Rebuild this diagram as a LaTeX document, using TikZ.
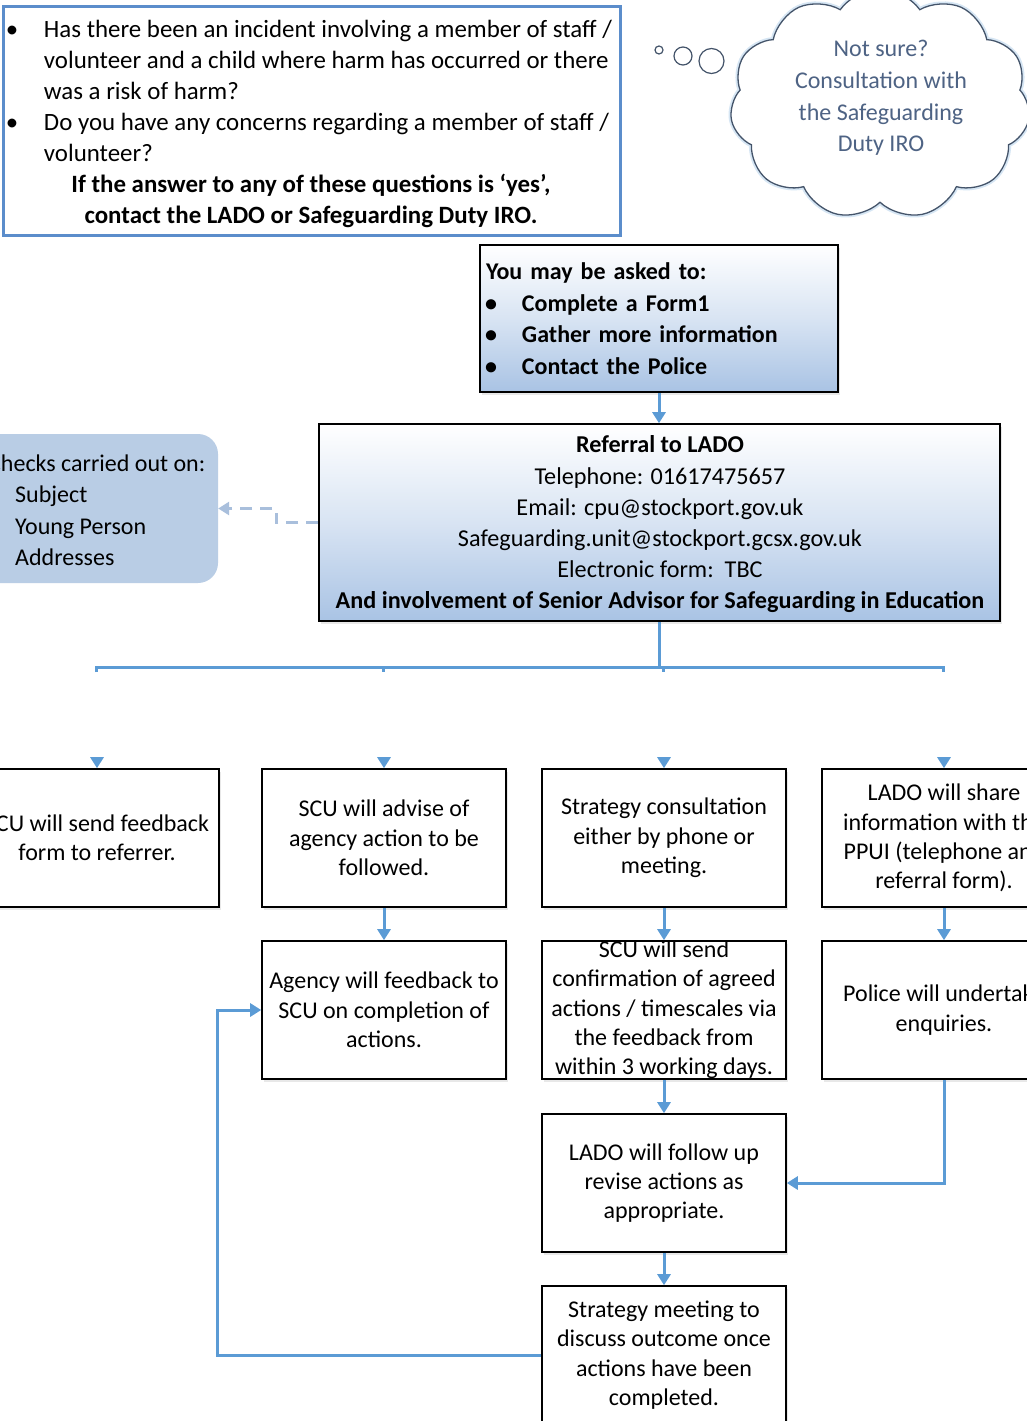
\documentclass[tikz,border=0pt]{standalone}
\usepackage{fontspec}
\setmainfont{Carlito}
\usetikzlibrary{arrows.meta,shapes.symbols,shadows,calc}
\definecolor{ablue}{HTML}{5B9BD5}
\definecolor{qblue}{HTML}{5B8DCB}
\definecolor{lblue}{HTML}{B9CDE5}
\definecolor{gblue}{HTML}{A9C3E4}
\definecolor{dashc}{HTML}{A9BFDC}
\definecolor{cloudc}{HTML}{44546A}
\definecolor{cloudt}{HTML}{4E6384}
\begin{document}
\begin{tikzpicture}[x=1pt,y=-1pt,
  every node/.style={font=\fontsize{24}{29.3}\selectfont},
  arr/.style={draw=ablue, line width=3pt, -{Triangle[width=13pt,length=11pt]}},
  conn/.style={draw=ablue, line width=3pt},
  stepbox/.style={draw=black, line width=1.6pt, fill=white, minimum width=244pt, minimum height=138pt, align=center, inner sep=2pt, drop shadow={opacity=0.18, shadow xshift=2pt, shadow yshift=-3pt}},
  gradbox/.style={draw=black, line width=1.6pt, top color=white, bottom color=gblue, middle color=white!55!gblue, drop shadow={opacity=0.18, shadow xshift=2pt, shadow yshift=-3pt}},
  cloudshape/.style={cloud, cloud puffs=11, cloud puff arc=110, aspect=1.3, minimum width=300pt, minimum height=230pt}
]
\useasboundingbox (0,0) rectangle (1027,1421);
\clip (0,0) rectangle (1027,1421);
\fill[white] (0,0) rectangle (1027,1421);

% question box
\node[draw=qblue, line width=3pt, fill=white, minimum width=617pt, minimum height=228pt] (q) at (311.5,121) {};
\node[align=left, inner sep=0pt, font=\fontsize{24.9}{31.1}\selectfont] (qtxt) at (311.5,124)
{\makebox[33pt][l]{\hspace*{-5pt}\textbullet}Has there been an incident involving a member of staff /\\
\hspace*{33pt}volunteer and a child where harm has occurred or there\\
\hspace*{33pt}was a risk of harm?\\
\makebox[33pt][l]{\hspace*{-5pt}\textbullet}Do you have any concerns regarding a member of staff /\\
\hspace*{33pt}volunteer?\\
\makebox[600pt][c]{\bfseries If the answer to any of these questions is ‘yes’,}\\
\makebox[600pt][c]{\bfseries contact the LADO or Safeguarding Duty IRO.}};

% cloud
\node[cloudshape, draw=ablue!25, line width=5pt] (cloudglow) at (880,104) {};
\node[cloudshape, draw=cloudc, line width=1.3pt, fill=white] (cloud) at (880,104) {};
\node[align=center, text=cloudt, font=\fontsize{24}{31.7}\selectfont] (cloudtxt) at (881,98) {Not sure?\\Consultation with\\the Safeguarding\\Duty IRO};
\draw[cloudc, line width=1.2pt, fill=white] (659,50) circle (4pt);
\draw[cloudc, line width=1.2pt, fill=white] (683,56) circle (9pt);
\draw[cloudc, line width=1.2pt, fill=white] (711.5,61) circle (12.5pt);

% ask box
\node[gradbox, minimum width=358pt, minimum height=147pt, text width=346pt, align=left, inner xsep=6pt, font=\fontsize{24}{31.5}\selectfont\bfseries] (ask) at (659,318.5)
{You may be asked to:\\
\hspace*{4pt}\makebox[32pt][l]{\hspace*{-5pt}\textbullet}Complete a Form1\\
\hspace*{4pt}\makebox[32pt][l]{\hspace*{-5pt}\textbullet}Gather more information\\
\hspace*{4pt}\makebox[32pt][l]{\hspace*{-5pt}\textbullet}Contact the Police};

% LADO box
\node[gradbox, minimum width=681pt, minimum height=197pt] (lado) at (659.5,522.5) {};
\node[align=center, inner sep=0pt, font=\fontsize{24.2}{31.2}\selectfont] (ladotxt) at (660,524.5)
{\textbf{Referral to LADO}\\Telephone: 01617475657\\Email: cpu@stockport.gov.uk\\Safeguarding.unit@stockport.gcsx.gov.uk\\Electronic form:\ \ TBC\\\textbf{And involvement of Senior Advisor for Safeguarding in Education}};

\draw[arr] (ask.south) -- (ask.south |- lado.north);

% checks box
\node[fill=lblue, rounded corners=20pt, minimum width=300pt, minimum height=149pt] (checks) at (68,508.5) {};
\node[anchor=west, align=left, inner sep=0pt, font=\fontsize{24}{31.5}\selectfont] (checkstxt) at (-12,510)
{Checks carried out on:\\\hspace*{27pt}Subject\\\hspace*{27pt}Young Person\\\hspace*{27pt}Addresses};
\draw[dashc, line width=3pt, dash pattern=on 12pt off 8pt, -{Triangle[width=13pt,length=11pt]}] (lado.west) -- ++(-42,0) |- (checks.east);

% bus
\coordinate (bus) at (lado.south |- 0,667);
\coordinate (b1) at (96,667);
\coordinate (b2) at (383,667);
\coordinate (b3) at (663,667);
\coordinate (b4) at (943,667);
\draw[conn] (lado.south) -- (bus);
\draw[conn] ($(b1)+(0,5)$) -- (b1) -- (b4) -- ++(0,5);
\draw[conn] (b2) -- ++(0,5);
\draw[conn] (b3) -- ++(0,5);

% row 1
\node[stepbox] (A) at (97,838) {SCU will send feedback\\form to referrer.};
\node[stepbox] (B) at (384,838) {SCU will advise of\\agency action to be\\followed.};
\node[stepbox] (C) at (664,838) {Strategy consultation\\either by phone or\\meeting.};
\node[stepbox] (D) at (944,838) {LADO will share\\information with the\\PPUI (telephone and\\referral form).};
\foreach \n in {A,B,C,D}{\draw[arr] ($(\n.north)+(0,-11)$) -- (\n.north);}

% row 2
\node[stepbox] (E) at (384,1010) {Agency will feedback to\\SCU on completion of\\actions.};
\node[stepbox, inner ysep=0pt] (F) at (664,1010) {SCU will send\\confirmation of agreed\\actions / timescales via\\the feedback from\\within 3 working days.};
\node[stepbox] (G) at (944,1010) {Police will undertake\\enquiries.};

% row 3, 4
\node[stepbox] (H) at (664,1183) {LADO will follow up\\revise actions as\\appropriate.};
\node[stepbox] (I) at (664,1355) {Strategy meeting to\\discuss outcome once\\actions have been\\completed.};

\draw[arr] (B) -- (E);
\draw[arr] (C) -- (F);
\draw[arr] (D) -- (G);
\draw[arr] (F) -- (H);
\draw[arr] (H) -- (I);
\draw[arr] (G.south) |- (H.east);
\draw[arr] (I.west) -- ++(-324,0) |- (E.west);
\end{tikzpicture}
\end{document}
